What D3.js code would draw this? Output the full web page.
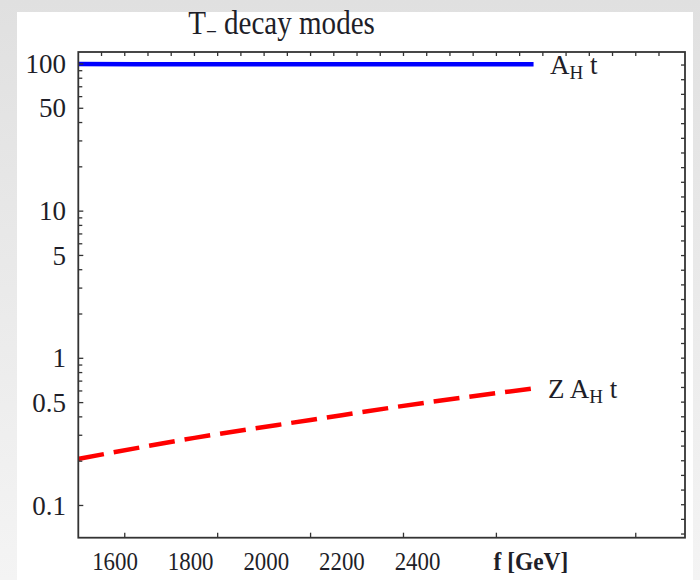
<!DOCTYPE html>
<html>
<head>
<meta charset="utf-8">
<script src="https://cdn.jsdelivr.net/npm/d3@7"></script>
<style>
  html, body { margin: 0; padding: 0; background: #e6e6e6; }
  svg { display: block; }
  text { font-family: "Liberation Serif", "Times New Roman", serif; fill: #1e1e28; }
</style>
</head>
<body>
<script>
// ---- data ----
const fValues = [1500, 1750, 2000, 2250, 2480];
const brAHt   = [99.8, 99.7, 99.6, 99.5, 99.4];
const brZAHt  = [0.207, 0.288, 0.381, 0.501, 0.624];
const xTickValues = [1600, 1800, 2000, 2200, 2400];
const xTickLabels = ["1600", "1800", "2000", "2200", "2400"];
const xExtraTicks = [2700];
const yMajorValues = [100, 50, 10, 5, 1, 0.5, 0.1];
const yMajorLabels = ["100", "50", "10", "5", "1", "0.5", "0.1"];
const titleText = "decay modes";
const xAxisTitle = "f [GeV]";

// ---- layout ----
const W = 700, H = 580;
const plot = { left: 78.3, right: 685, top: 52, bottom: 537.7 };

const svg = d3.select("body").append("svg").attr("width", W).attr("height", H);

// background
const defs = svg.append("defs");
const grad = defs.append("linearGradient").attr("id", "bg").attr("x1", 0).attr("y1", 0).attr("x2", 0).attr("y2", 1);
grad.append("stop").attr("offset", "0%").attr("stop-color", "#e0e0e0");
grad.append("stop").attr("offset", "100%").attr("stop-color", "#f4f4f4");
svg.append("rect").attr("width", W).attr("height", H).attr("fill", "url(#bg)");
svg.append("rect").attr("x", 17).attr("y", 12).attr("width", 676).attr("height", H - 12).attr("fill", "#ffffff");

// scales
const x = d3.scaleLinear().domain([1500, 2806]).range([plot.left, plot.right]);
const y = d3.scaleLog().domain([0.0604, 120.6]).range([plot.bottom, plot.top]);
const xLabelPos = d3.scaleLinear().domain([1600, 2400]).range([115, 417.5]);
const rightTickScale = d3.scaleLinear().domain([-0.25, 32.89]).range([plot.bottom, plot.top]);

const tickColor = "#333";

// lines
const blueData = fValues.map((f, i) => ({ f, v: brAHt[i] }));
const redData = fValues.map((f, i) => ({ f, v: brZAHt[i] }));
const line = d3.line().x(d => x(d.f)).y(d => y(d.v)).curve(d3.curveMonotoneX);

svg.append("path").datum(blueData).attr("d", line)
  .attr("fill", "none").attr("stroke", "#0000ff").attr("stroke-width", 4.5);
svg.append("path").datum(redData).attr("d", line)
  .attr("fill", "none").attr("stroke", "#ff0000").attr("stroke-width", 4.5)
  .attr("stroke-dasharray", "26,10");

// frame ticks
const ticks = svg.append("g").attr("stroke", tickColor).attr("stroke-width", 1.3);
// left: log ticks
const logTicks = y.ticks().filter(v => v >= 0.1 - 1e-9 && v <= 100 + 1e-9);
logTicks.forEach(v => {
  const major = yMajorValues.some(m => Math.abs(m - v) / m < 1e-6);
  ticks.append("line").attr("x1", plot.left).attr("x2", plot.left + (major ? 5 : 4))
    .attr("y1", y(v)).attr("y2", y(v));
});
// bottom
xTickValues.concat(xExtraTicks).forEach(v => {
  ticks.append("line").attr("x1", x(v)).attr("x2", x(v))
    .attr("y1", plot.bottom).attr("y2", plot.bottom - 5);
});
// top
d3.range(1550, 2800, 50).forEach(v => {
  ticks.append("line").attr("x1", x(v)).attr("x2", x(v))
    .attr("y1", plot.top).attr("y2", plot.top + 4);
});
// right
d3.range(0, 33).forEach(v => {
  ticks.append("line").attr("x1", plot.right).attr("x2", plot.right - 4)
    .attr("y1", rightTickScale(v)).attr("y2", rightTickScale(v));
});

// frame
svg.append("rect").attr("x", plot.left).attr("y", plot.top)
  .attr("width", plot.right - plot.left).attr("height", plot.bottom - plot.top)
  .attr("fill", "none").attr("stroke", "#333").attr("stroke-width", 1.8);

// helper for horizontally condensed text
function sText(xp, yp, sx, size, anchor) {
  return svg.append("text")
    .attr("transform", `translate(${xp},${yp}) scale(${sx},1)`)
    .attr("font-size", size).attr("text-anchor", anchor || "start");
}

// y labels
yMajorValues.forEach((v, i) => {
  sText(66, y(v), 1, 27, "end").attr("dy", "0.34em").text(yMajorLabels[i]);
});
// x labels
xTickValues.forEach((v, i) => {
  sText(xLabelPos(v), 570, 0.88, 26, "middle").text(xTickLabels[i]);
});
sText(xLabelPos(2700), 570, 0.9, 26, "middle").attr("font-weight", "bold").text(xAxisTitle);

// title
const t = sText(281.5, 33.5, 0.88, 33, "middle");
t.append("tspan").text("T");
t.append("tspan").attr("font-size", 22).attr("dy", 5).text("\u2212");
t.append("tspan").attr("dy", -5).text(" " + titleText);

// curve labels
const l1 = sText(550, 74, 1, 27, "start");
l1.append("tspan").text("A");
l1.append("tspan").attr("font-size", 19).attr("dy", 5).text("H");
l1.append("tspan").attr("dy", -5).text(" t");

const l2 = sText(548, 398, 1, 27, "start");
l2.append("tspan").text("Z A");
l2.append("tspan").attr("font-size", 19).attr("dy", 5).text("H");
l2.append("tspan").attr("dy", -5).text(" t");
</script>
</body>
</html>
